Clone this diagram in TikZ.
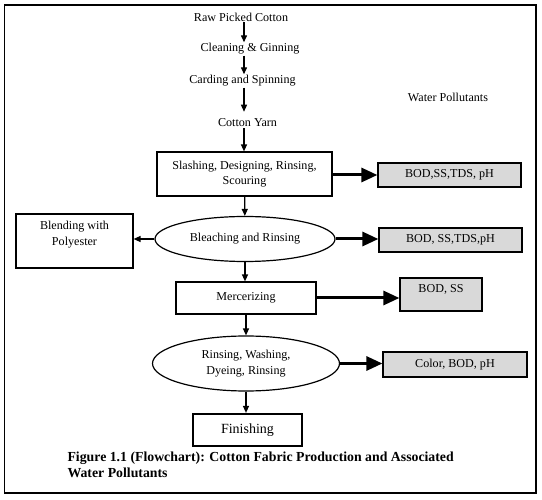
\documentclass[tikz,border=0pt]{standalone}
\usepackage{fontspec}
\setmainfont{Liberation Serif}
\usetikzlibrary{arrows.meta,positioning,shapes.geometric}
\definecolor{Pollute}{HTML}{D9D9D9}

\begin{document}
\begin{tikzpicture}[x=1pt,y=-1pt,
  font=\fontsize{12.1}{15.5}\selectfont,
  plain/.style={inner sep=1pt},
  box/.style={draw,line width=1.2pt,align=center,inner sep=2pt},
  oval/.style={ellipse,draw,line width=1.2pt,align=center,inner sep=0pt},
  pollut/.style={box,fill=Pollute,minimum height=24pt},
  arrow/.style={-{Triangle[length=7pt,width=6pt]},line width=1.3pt},
  bigarrow/.style={-{Triangle[length=16pt,width=14pt]},line width=3pt}]
\useasboundingbox (0,0) rectangle (542,500);
\draw[line width=1.3pt] (4.5,5) rectangle (536,493);
% raw material steps
\coordinate (col) at (244,0);
\node[plain] (raw) at (241,17) {Raw Picked Cotton};
\node[plain] (clean) at (250,49) {Cleaning \& Ginning};
\node[plain] (card) at (242.5,81) {Carding and Spinning};
\node[plain] (yarn) at (247.5,123) {Cotton Yarn};
\node[plain] (water) at (448,97) {Water Pollutants};
% wet processing
\node[box,minimum width=175pt,minimum height=44pt] (slash) at (244.5,174)
  {Slashing, Designing, Rinsing,\\Scouring};
\node[oval,minimum width=180pt,minimum height=45pt] (bleach) at (245,239)
  {Bleaching and Rinsing};
\node[box,minimum width=117pt,minimum height=54pt] (blend) at (74.5,241)
  {Blending with\\Polyester\\~};
\node[box,minimum width=140pt,minimum height=32pt] (merc) at (246,298) {Mercerizing};
\node[oval,minimum width=187pt,minimum height=55pt] (dye) at (246,363.5)
  {Rinsing, Washing,\\Dyeing, Rinsing};
\node[box,line width=2.2pt,minimum width=109pt,minimum height=32pt,
  font=\fontsize{14}{16}\selectfont] (finish) at (247.5,430) {Finishing};
% pollutants
\node[pollut,minimum width=143pt] (pol1) at (449.5,175) {BOD,SS,TDS, pH};
\node[pollut,minimum width=143pt] (pol2) at (450.5,240) {BOD, SS,TDS,pH};
\node[pollut,minimum width=82pt,minimum height=33pt] (pol3) at (441,294.5)
  {BOD, SS\\[-4pt]~};
\node[pollut,minimum width=144pt,minimum height=25pt] (pol4) at (455,364.5)
  {Color, BOD, pH};
\node[anchor=west,align=left,font=\fontsize{13.8}{16}\selectfont\bfseries]
  (caption) at (64,465) {Figure 1.1 (Flowchart): Cotton Fabric Production and Associated\\
  Water Pollutants};
\draw[arrow] (raw.south -| col) -- (clean.north -| col);
\draw[arrow] (clean.south -| col) -- (card.north -| col);
\draw[arrow,shorten >=6pt] (card.south -| col) -- (yarn.north -| col);
\draw[arrow] (yarn.south -| col) -- (slash.north -| col);
\draw[arrow] (slash) -- (bleach);
\draw[arrow] (bleach.west) -- (blend.east |- bleach.west);
\draw[arrow] (bleach) -- (merc.north -| bleach);
\draw[arrow] (merc) -- (dye);
\draw[arrow] (dye) -- (finish.north -| dye);
\draw[bigarrow] (slash.east |- pol1) -- (pol1.west);
\draw[bigarrow] (bleach.east) -- (pol2.west |- bleach.east);
\draw[bigarrow] (merc.east) -- (pol3.west |- merc.east);
\draw[bigarrow] (dye.east) -- (pol4.west |- dye.east);
\end{tikzpicture}
\end{document}
